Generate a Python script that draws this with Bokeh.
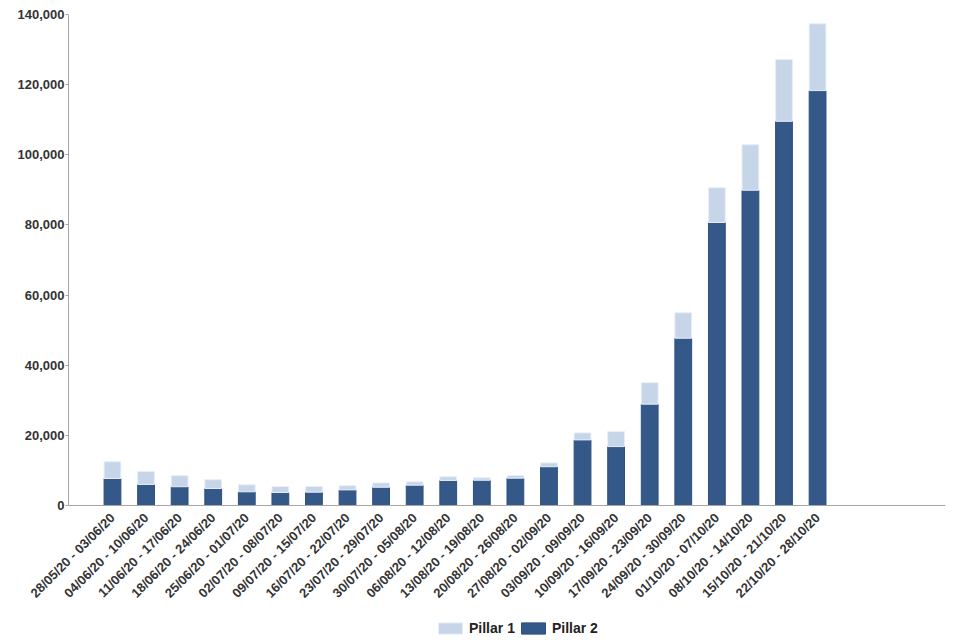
import math
from bokeh.plotting import figure
from bokeh.layouts import column
from bokeh.models import (Range1d, NumeralTickFormatter, Legend,
                          LegendItem, ColumnDataSource, FixedTicker)
from bokeh.embed import file_html
from bokeh.resources import INLINE

weeks = [
    "28/05/20 - 03/06/20", "04/06/20 - 10/06/20", "11/06/20 - 17/06/20",
    "18/06/20 - 24/06/20", "25/06/20 - 01/07/20", "02/07/20 - 08/07/20",
    "09/07/20 - 15/07/20", "16/07/20 - 22/07/20", "23/07/20 - 29/07/20",
    "30/07/20 - 05/08/20", "06/08/20 - 12/08/20", "13/08/20 - 19/08/20",
    "20/08/20 - 26/08/20", "27/08/20 - 02/09/20", "03/09/20 - 09/09/20",
    "10/09/20 - 16/09/20", "17/09/20 - 23/09/20", "24/09/20 - 30/09/20",
    "01/10/20 - 07/10/20", "08/10/20 - 14/10/20", "15/10/20 - 21/10/20",
    "22/10/20 - 28/10/20",
]
pillar2 = [7700, 6000, 5350, 4850, 3900, 3700, 3800, 4450, 5200, 5800, 7150,
           7200, 7800, 11050, 18700, 16800, 28900, 47700, 80700, 89900,
           109550, 118300]
pillar1 = [4800, 3700, 3150, 2500, 2000, 1700, 1650, 1200, 1250, 950, 1050,
           700, 750, 1100, 2000, 4300, 6100, 7250, 9900, 12950, 17600, 19050]
y_ticks = [0, 20000, 40000, 60000, 80000, 100000, 120000, 140000]

DARK = "#345888"
LIGHT = "#c6d5e8"
TEXT = "#333333"
FONT = "Liberation Sans"

xpos = list(range(len(weeks)))
src = ColumnDataSource(dict(x=xpos, p2=pillar2, p1=pillar1))

p = figure(width=960, height=620, output_backend="svg", toolbar_location=None,
           x_range=Range1d(-1.31, 24.81), y_range=Range1d(0, 140000),
           min_border_left=68, min_border_right=15, min_border_top=14,
           min_border_bottom=115)

r = p.vbar_stack(["p2", "p1"], x="x", width=0.5, source=src,
                 color=[DARK, LIGHT], line_color=["#2e5080", "#e8eef6"],
                 line_width=1)

p.outline_line_color = None
p.xgrid.grid_line_color = None
p.ygrid.grid_line_color = None
p.background_fill_color = "white"
p.border_fill_color = "white"

p.yaxis.ticker = FixedTicker(ticks=y_ticks)
p.yaxis.formatter = NumeralTickFormatter(format="0,0")
p.yaxis.axis_line_color = "#a6a6a6"
p.yaxis.major_tick_line_color = "#a6a6a6"
p.yaxis.major_tick_out = 3
p.yaxis.major_tick_in = 0
p.yaxis.minor_tick_line_color = None
p.yaxis.major_label_standoff = 1

p.xaxis.ticker = FixedTicker(ticks=xpos)
p.xaxis.major_label_overrides = {i: w for i, w in zip(xpos, weeks)}
p.xaxis.axis_line_color = "#a6a6a6"
p.xaxis.major_tick_line_color = None
p.xaxis.minor_tick_line_color = None
p.xaxis.major_label_orientation = math.pi / 4
p.xaxis.major_label_standoff = 4

for ax in (p.xaxis, p.yaxis):
    ax.major_label_text_font = FONT
    ax.major_label_text_font_style = "bold"
    ax.major_label_text_font_size = "13px"
    ax.major_label_text_color = TEXT

# separate strip for the legend below the chart
lp = figure(width=960, height=20, output_backend="svg", toolbar_location=None,
            x_axis_type=None, y_axis_type=None, min_border=0,
            x_range=Range1d(0, 1), y_range=Range1d(0, 1))
lp.outline_line_color = None
lp.xgrid.grid_line_color = None
lp.ygrid.grid_line_color = None
lp.background_fill_color = "white"
lp.border_fill_color = "white"
# legend-only renderers: a single zero-size bar each (draws nothing)
lsrc = ColumnDataSource(dict(x=[0.5], bottom=[0.5], top=[0.5]))
g1 = lp.vbar(x="x", bottom="bottom", top="top", width=0, source=lsrc,
             color=LIGHT, line_color="#e8eef6")
g2 = lp.vbar(x="x", bottom="bottom", top="top", width=0, source=lsrc,
             color=DARK, line_color="#2e5080")
legend = Legend(items=[LegendItem(label="Pillar 1", renderers=[g1]),
                       LegendItem(label="Pillar 2", renderers=[g2])],
                orientation="horizontal", location=(367, 4),
                glyph_width=30, glyph_height=14, label_standoff=4, spacing=3,
                padding=0, margin=0, border_line_color=None,
                label_text_font=FONT, label_text_font_style="bold",
                label_text_font_size="14px", label_text_color="#222222",
                label_height=14, background_fill_alpha=0)
lp.add_layout(legend, "center")

layout = column(p, lp, spacing=0)
open("out.html", "w").write(file_html(layout, INLINE))
